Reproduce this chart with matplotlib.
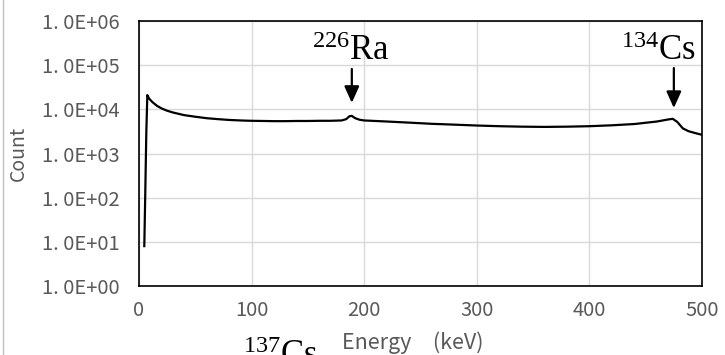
import numpy as np
import matplotlib.pyplot as plt
from matplotlib.lines import Line2D

# ============================================================
# Data
# ============================================================
energy = [4.7, 5.5, 6.5, 7.4, 9, 12, 16, 20, 25, 30, 40, 50, 60, 70, 80,
          90, 100, 110, 120, 130, 140, 150, 160, 170, 180, 184, 187, 189,
          192, 196, 200, 220, 240, 260, 280, 300, 320, 340, 360, 380, 400,
          420, 440, 460, 470, 474, 478, 483, 488, 494, 500]
count = [8, 100, 3000, 21000, 17500, 14500, 12000, 10500, 9300, 8500, 7400,
         6800, 6300, 6000, 5750, 5600, 5500, 5450, 5400, 5400, 5450, 5450,
         5500, 5500, 5600, 6000, 7000, 7100, 6300, 5800, 5600, 5300, 5000,
         4700, 4500, 4300, 4150, 4050, 4000, 4050, 4150, 4350, 4650, 5300,
         5900, 6100, 5200, 3700, 3200, 2900, 2650]

ytick_vals = [1e0, 1e1, 1e2, 1e3, 1e4, 1e5, 1e6]
ytick_labels = ["1. 0E+00", "1. 0E+01", "1. 0E+02", "1. 0E+03",
                "1. 0E+04", "1. 0E+05", "1. 0E+06"]
xtick_vals = [0, 100, 200, 300, 400, 500]

# peak markers: label, energy, arrow top, arrow tip
peak_labels = [r"$\mathregular{^{226}Ra}$", r"$\mathregular{^{134}Cs}$"]
peak_energy = [189, 475]
arrow_top = [8.2e4, 8.6e4]
arrow_tip = [1.4e4, 1.07e4]

gray = "#595959"
sans = ["Noto Sans CJK JP", "DejaVu Sans"]
serif = "Liberation Serif"
W, H = 725, 355

fig = plt.figure(figsize=(W / 100, H / 100), dpi=100)
ax = fig.add_axes([139 / W, 1 - 286 / H, 563 / W, 265 / H])

ax.plot(energy, count, color="black", lw=1.6)
ax.set_yscale("log")
ax.set_xlim(0, 500)
ax.set_ylim(1, 1e6)

ax.set_yticks(ytick_vals)
ax.set_yticklabels(ytick_labels)
ax.minorticks_off()
ax.set_xticks(xtick_vals)
ax.tick_params(length=0, colors=gray, labelsize=14.5)
ax.tick_params(axis="y", pad=14)
ax.tick_params(axis="x", pad=10)
for lab in ax.get_xticklabels() + ax.get_yticklabels():
    lab.set_family(sans)

ax.grid(True, color="#d9d9d9", lw=1)
ax.set_axisbelow(True)
for sp in ax.spines.values():
    sp.set_color("black")
    sp.set_linewidth(1.2)

# axis titles
fig.text(18.5 / W, 1 - 153 / H, "Count", rotation=90, color=gray,
         fontsize=14, family=sans, ha="center", va="center")
fig.text(413 / W, 1 - 343 / H, "Energy\u3000(keV)", color=gray,
         fontsize=15.5, family=sans, ha="center", va="center")

# arrows + nuclide labels
for e, top, tip in zip(peak_energy, arrow_top, arrow_tip):
    ax.annotate("", xy=(e, tip), xytext=(e, top),
                arrowprops=dict(arrowstyle="-|>,head_width=0.45,head_length=1.0",
                                color="black", lw=1.6, shrinkA=0, shrinkB=0))
fig.text(350.5 / W, 1 - 60 / H, peak_labels[0], family=serif,
         fontsize=25, ha="center", va="baseline")
fig.text(659 / W, 1 - 60 / H, peak_labels[1], family=serif,
         fontsize=25, ha="center", va="baseline")

# bottom label, cut off by the image edge as in the original
fig.text(243 / W, 1 - 365 / H, r"$\mathregular{^{137}Cs}$", family=serif,
         fontsize=25, ha="left", va="baseline")

# light frame line at left edge
fig.add_artist(Line2D([2.5 / W, 2.5 / W], [0, 1], color="#bfbfbf",
                      lw=1, transform=fig.transFigure))

fig.savefig("out.png", dpi=100)
